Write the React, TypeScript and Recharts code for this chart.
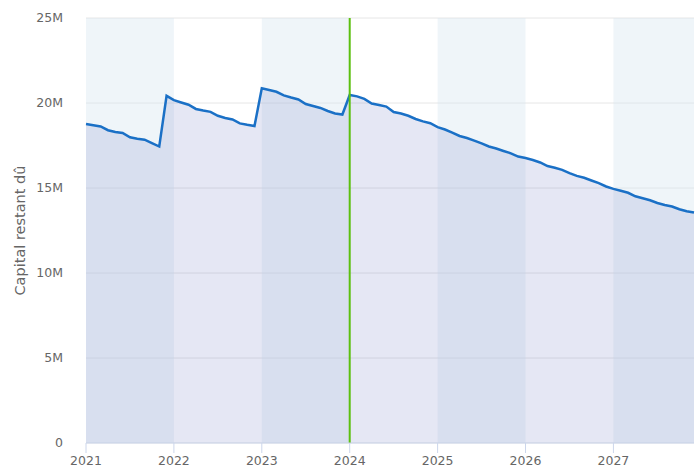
import React from "react";
import {
  ComposedChart,
  Area,
  XAxis,
  YAxis,
  CartesianGrid,
  ReferenceArea,
  ReferenceLine,
} from "recharts";

// Capital restant dû, in millions, one value per month (Jan..Dec)
const cap2021 = [18.76, 18.69, 18.62, 18.4, 18.3, 18.24, 17.98, 17.9, 17.84, 17.64, 17.44, 20.42];
const cap2022 = [20.17, 20.03, 19.9, 19.65, 19.56, 19.48, 19.25, 19.12, 19.03, 18.8, 18.72, 18.65];
const cap2023 = [20.86, 20.76, 20.66, 20.45, 20.32, 20.21, 19.94, 19.82, 19.71, 19.53, 19.38, 19.32];
const cap2024 = [20.47, 20.39, 20.24, 19.97, 19.88, 19.79, 19.47, 19.38, 19.25, 19.06, 18.92, 18.81];
const cap2025 = [18.58, 18.44, 18.26, 18.06, 17.94, 17.79, 17.62, 17.44, 17.32, 17.18, 17.04, 16.85];
const cap2026 = [16.76, 16.65, 16.5, 16.29, 16.19, 16.07, 15.88, 15.71, 15.6, 15.44, 15.29, 15.09];
const cap2027 = [14.95, 14.84, 14.72, 14.51, 14.4, 14.28, 14.12, 14.0, 13.91, 13.75, 13.63, 13.56];

const years = ["2021", "2022", "2023", "2024", "2025", "2026", "2027"];
const yearSeries = [cap2021, cap2022, cap2023, cap2024, cap2025, cap2026, cap2027];
const shadedYears = ["2021", "2023", "2025", "2027"];
const currentYear = "2024";
const yTicks = [0, 5, 10, 15, 20, 25];

const data = yearSeries.flatMap((vals, yi) =>
  vals.map((v, m) => ({ t: yi * 12 + m, capital: v }))
);
const lastT = data.length - 1;

const xTicks = years.map((_, i) => i * 12);

const FONT = "'DejaVu Sans', sans-serif";

export default function App() {
  return (
    <div style={{ position: "fixed", left: 0, top: 0, background: "#fff" }}>
      <ComposedChart
        width={696}
        height={468}
        data={data}
        margin={{ top: 18, right: 2, bottom: 0, left: 0 }}
      >
        <CartesianGrid vertical={false} stroke="#e6e6e6" />
        {shadedYears.map((y) => {
          const i = years.indexOf(y);
          return (
            <ReferenceArea
              key={y}
              x1={i * 12}
              x2={Math.min((i + 1) * 12, lastT)}
              y1={0}
              y2={25}
              fill="#d7e6f0"
              fillOpacity={0.4}
              stroke="none"
            />
          );
        })}
        <XAxis
          dataKey="t"
          type="number"
          domain={[0, lastT]}
          ticks={xTicks}
          tickFormatter={(v: number) => years[Math.round(v / 12)]}
          height={25}
          tickSize={10}
          tickMargin={3}
          axisLine={{ stroke: "#ccd6eb" }}
          tickLine={{ stroke: "#ccd6eb" }}
          tick={{ fill: "#666666", fontSize: 12.5, fontFamily: FONT }}
          interval={0}
        />
        <YAxis
          type="number"
          domain={[0, 25]}
          ticks={yTicks}
          width={86}
          axisLine={false}
          tickLine={false}
          tickSize={0}
          tickMargin={23}
          tickFormatter={(v: number) => (v === 0 ? "0" : `${v}M`)}
          tick={{ fill: "#666666", fontSize: 12.5, fontFamily: FONT }}
          label={{
            value: "Capital restant dû",
            angle: -90,
            position: "insideLeft",
            dx: 15,
            style: { textAnchor: "middle", fill: "#666666", fontSize: 14.5, fontFamily: FONT },
          }}
        />
        <Area
          type="linear"
          dataKey="capital"
          stroke="#1a70c6"
          strokeWidth={2.5}
          fill="#7c86c8"
          fillOpacity={0.2}
          isAnimationActive={false}
          dot={false}
          activeDot={false}
        />
        <ReferenceLine
          x={years.indexOf(currentYear) * 12}
          stroke="#5cc010"
          strokeWidth={2}
        />
      </ComposedChart>
    </div>
  );
}
